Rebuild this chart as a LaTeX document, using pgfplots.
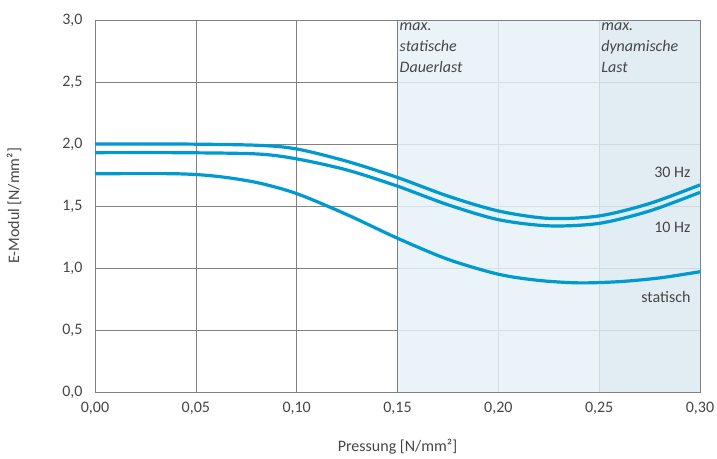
\documentclass[border=0pt]{standalone}
\usepackage{fontspec}
\setmainfont{Carlito}
\usepackage{pgfplots}
\pgfplotsset{compat=1.18}
\definecolor{kurve}{RGB}{0,153,208}
\definecolor{zoneA}{RGB}{230,241,246}
\definecolor{zoneB}{RGB}{220,234,241}
\definecolor{gitter}{RGB}{128,128,128}
\definecolor{txt}{RGB}{70,70,70}
\begin{document}
\begin{tikzpicture}[font=\fontsize{16}{19}\selectfont]
\begin{axis}[
  scale only axis, width=605pt, height=372pt,
  xmin=0, xmax=0.30, ymin=0, ymax=3.0,
  xtick={0,0.05,...,0.30}, ytick={0,0.5,...,3.0},
  grid=major, major grid style={gitter, line width=0.6pt},
  axis line style={gitter, line width=0.8pt},
  tick style={draw=none},
  ticklabel style={txt, font=\fontsize{16}{19}\selectfont},
  xticklabel style={/pgf/number format/.cd, use comma, fixed, fixed zerofill, precision=2},
  yticklabel style={/pgf/number format/.cd, use comma, fixed, fixed zerofill, precision=1},
  /pgf/number format/assume math mode=true,
  scaled x ticks=false,
  xticklabel shift=7pt, yticklabel shift=9pt,
  xlabel={Pressung [N/mm²]}, ylabel={E-Modul [N/mm²]},
  label style={txt, font=\fontsize{16}{19}\selectfont},
  xlabel style={yshift=-17pt}, ylabel style={yshift=34pt},
  clip=false,
]
\addplot[draw=none, fill=zoneA, fill opacity=0.85] coordinates {(0.15,0) (0.25,0) (0.25,3) (0.15,3)} -- cycle;
\addplot[draw=none, fill=zoneB, fill opacity=0.85] coordinates {(0.25,0) (0.30,0) (0.30,3) (0.25,3)} -- cycle;
\draw[gitter, line width=0.8pt] (axis cs:0,3) -- (axis cs:0.30,3) -- (axis cs:0.30,0);

% 30 Hz
\addplot[kurve, line width=3.2pt, smooth] coordinates {
 (0,2.0) (0.04,2.0) (0.08,1.99) (0.10,1.96) (0.125,1.86) (0.15,1.73) (0.175,1.58)
 (0.20,1.46) (0.225,1.40) (0.25,1.42) (0.275,1.52) (0.30,1.67)};
% 10 Hz
\addplot[kurve, line width=3.2pt, smooth] coordinates {
 (0,1.93) (0.04,1.93) (0.08,1.92) (0.10,1.88) (0.125,1.79) (0.15,1.66) (0.175,1.51)
 (0.20,1.39) (0.225,1.34) (0.25,1.36) (0.275,1.46) (0.30,1.61)};
% statisch
\addplot[kurve, line width=3.2pt, smooth] coordinates {
 (0,1.76) (0.04,1.76) (0.06,1.74) (0.08,1.69) (0.10,1.60) (0.125,1.43) (0.15,1.24)
 (0.175,1.07) (0.20,0.95) (0.22,0.90) (0.24,0.88) (0.26,0.89) (0.28,0.92) (0.30,0.97)};

\node[txt, anchor=north west, align=left, font=\fontsize{16}{19}\selectfont\itshape, inner xsep=2pt, inner ysep=3pt] at (axis cs:0.15,3.0)
  {max.\\[2pt]statische\\[2pt]Dauerlast};
\node[txt, anchor=north west, align=left, font=\fontsize{16}{19}\selectfont\itshape, inner xsep=2pt, inner ysep=3pt] at (axis cs:0.25,3.0)
  {max.\\[2pt]dynamische\\[2pt]Last};
\node[txt, anchor=east] at (axis cs:0.297,1.77) {30 Hz};
\node[txt, anchor=east] at (axis cs:0.297,1.33) {10 Hz};
\node[txt, anchor=east] at (axis cs:0.297,0.77) {statisch};
\end{axis}
\pgfresetboundingbox
\path (current axis.south west) ++(-95pt,-67pt) coordinate (bbA);
\path (current axis.north east) ++(17pt,20pt) coordinate (bbB);
\useasboundingbox (bbA) rectangle (bbB);
\end{tikzpicture}
\end{document}
